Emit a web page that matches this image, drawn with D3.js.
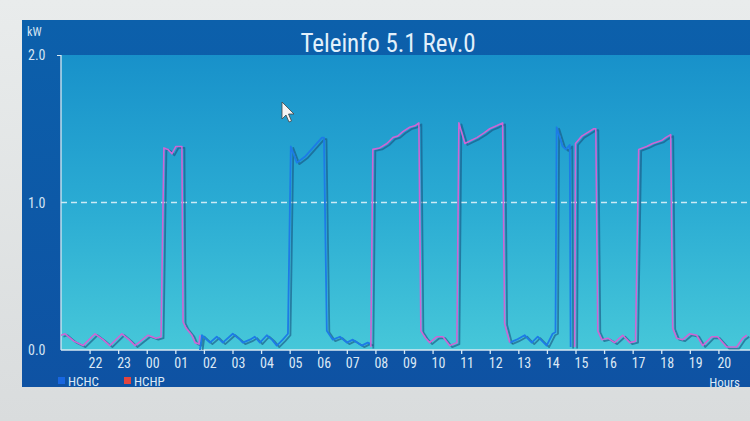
<!DOCTYPE html>
<html>
<head>
<meta charset="utf-8">
<script src="https://cdn.jsdelivr.net/npm/d3@7/dist/d3.min.js"></script>
<style>
  html, body { margin: 0; padding: 0; background: #e3e6e7; }
  svg { display: block; }
  text { font-family: 'Liberation Sans Narrow', 'Roboto Condensed', 'Liberation Sans', Arial, sans-serif; }
</style>
</head>
<body>
<svg id="chart" width="750" height="421"></svg>
<script>
// ---------- data (hours counted from 21:00 of day 1; >24 = next day) ----------
const titleText = "Teleinfo 5.1 Rev.0";
const yTicks = [0, 1, 2];
const yTickLabels = ["0.0", "1.0", "2.0"];
const xTickHours = [22,23,24,25,26,27,28,29,30,31,32,33,34,35,36,37,38,39,40,41,42,43,44];
const xTickLabels = ["22","23","00","01","02","03","04","05","06","07","08","09","10","11","12","13","14","15","16","17","18","19","20"];
const seriesNames = ["HCHC", "HCHP"];

// HCHP (peak hours) — null marks a gap
const hchpHours = [
  21.00,21.14,21.45,21.77,22.19,22.47,22.71,23.13,23.38,23.59,24.04,24.32,24.50,24.60,24.74,24.88,25.02,25.23,25.27,25.37,25.58,25.69,25.83,25.86,
  26.00,
  31.84,31.91,32.15,32.40,32.61,32.78,32.96,33.20,33.38,33.52,33.59,33.76,33.90,34.15,34.36,34.60,34.85,34.92,35.13,35.34,35.55,35.79,36.00,36.24,36.45,36.52,36.70,
  37.00,
  38.97,39.00,39.22,39.39,39.64,39.71,39.78,39.92,40.13,40.37,40.65,40.90,41.10,41.21,41.49,41.70,42.01,42.15,42.33,42.40,42.54,42.75,42.99,43.24,43.45,43.76,43.97,44.29,44.64,44.85,44.99
];
const hchpKW = [
  0.10,0.11,0.06,0.03,0.11,0.07,0.03,0.11,0.07,0.03,0.10,0.08,0.09,1.37,1.36,1.33,1.38,1.38,0.19,0.15,0.10,0.05,0.04,0.10,
  null,
  0.02,1.36,1.37,1.40,1.44,1.45,1.48,1.51,1.52,1.54,0.13,0.08,0.05,0.09,0.09,0.03,0.05,1.54,1.40,1.42,1.44,1.47,1.50,1.52,1.54,0.18,0.05,
  null,
  0.02,1.40,1.45,1.47,1.50,1.50,0.13,0.07,0.08,0.05,0.10,0.05,0.06,1.36,1.38,1.40,1.42,1.44,1.46,0.15,0.08,0.07,0.11,0.10,0.03,0.09,0.09,0.02,0.02,0.08,0.10
];

// HCHC (off-peak hours)
const hchcHours = [
  25.86,25.93,26.21,26.45,26.66,27.01,27.26,27.36,27.61,27.78,27.96,28.20,28.38,28.55,28.76,28.94,29.04,29.25,29.53,29.81,30.13,30.20,30.30,30.51,30.76,31.00,31.21,31.52,31.73,31.84,
  33.00,
  36.70,36.94,37.22,37.47,37.68,37.99,38.20,38.30,38.34,38.55,38.66,38.80,38.83
];
const hchcKW = [
  0.00,0.10,0.05,0.09,0.05,0.11,0.07,0.05,0.07,0.09,0.05,0.10,0.07,0.03,0.07,0.11,1.38,1.27,1.31,1.37,1.44,1.44,0.13,0.07,0.09,0.05,0.07,0.03,0.05,0.04,
  null,
  0.05,0.07,0.10,0.05,0.09,0.03,0.11,0.12,1.51,1.38,1.36,1.39,0.02
];

// ---------- layout ----------
const svg = d3.select("#chart");
const W = 750, H = 421;
const panel = { x: 22, y: 20, w: 740, h: 367 };
const plot = { left: 61, right: 747, top: 55, bottom: 350 };

const defs = svg.append("defs");
const gPanel = defs.append("linearGradient").attr("id", "gPanel").attr("x1", 0).attr("y1", 0).attr("x2", 0).attr("y2", 1);
gPanel.append("stop").attr("offset", "0%").attr("stop-color", "#0c60ab");
gPanel.append("stop").attr("offset", "100%").attr("stop-color", "#0e52a3");
const gPlot = defs.append("linearGradient").attr("id", "gPlot").attr("x1", 0).attr("y1", 0).attr("x2", 0).attr("y2", 1);
gPlot.append("stop").attr("offset", "0%").attr("stop-color", "#1891ca");
gPlot.append("stop").attr("offset", "50%").attr("stop-color", "#2aabd3");
gPlot.append("stop").attr("offset", "100%").attr("stop-color", "#46c7d9");
const gBg = defs.append("linearGradient").attr("id", "gBg").attr("x1", 0).attr("y1", 0).attr("x2", 0).attr("y2", 1);
gBg.append("stop").attr("offset", "0%").attr("stop-color", "#e9ecec");
gBg.append("stop").attr("offset", "100%").attr("stop-color", "#d9dcdd");

svg.append("rect").attr("width", W).attr("height", H).attr("fill", "url(#gBg)");
svg.append("rect").attr("x", panel.x).attr("y", panel.y).attr("width", panel.w).attr("height", panel.h).attr("fill", "url(#gPanel)");
svg.append("rect").attr("x", plot.left).attr("y", plot.top).attr("width", W - plot.left).attr("height", plot.bottom - plot.top).attr("fill", "url(#gPlot)");

// ---------- scales ----------
const x = d3.scaleLinear().domain([21, 45]).range([plot.left, plot.right]);
const y = d3.scaleLinear().domain([0, 2]).range([plot.bottom, plot.top]);

// title
svg.append("text").attr("x", 388).attr("y", 52).attr("text-anchor", "middle")
  .attr("font-size", 25).attr("fill", "#e2f0fb").text(titleText);

// unit
svg.append("text").attr("x", 27).attr("y", 36).attr("font-size", 12).attr("fill", "#d5e4f3").text("kW");

// y labels
svg.append("g").selectAll("text").data(yTicks).join("text")
  .attr("x", 28).attr("y", d => y(d) + 5).attr("font-size", 14).attr("fill", "#d5e4f3")
  .text((d, i) => yTickLabels[i]);

// dashed gridline at 1.0
svg.append("line").attr("x1", plot.left).attr("x2", W).attr("y1", y(1)).attr("y2", y(1))
  .attr("stroke", "#e8f6fb").attr("stroke-width", 1.3).attr("stroke-dasharray", "6,4").attr("opacity", 0.85);

// x axis
const xAxis = d3.axisBottom(x).tickValues(xTickHours).tickSize(4).tickFormat("");
const gx = svg.append("g").attr("transform", `translate(0,${plot.bottom})`).call(xAxis);
gx.select(".domain").attr("stroke", "#d7e8f2").attr("stroke-width", 1.5).attr("d", `M${plot.left},0H${W}`);
gx.selectAll(".tick line").attr("stroke", "#d7e8f2").attr("stroke-width", 1.3);
svg.append("g").selectAll("text").data(xTickHours).join("text")
  .attr("x", d => x(d) - 1).attr("y", 368).attr("font-size", 14).attr("fill", "#dbe8f5")
  .text((d, i) => xTickLabels[i]);

// y axis line
const yAxis = d3.axisLeft(y).tickValues([2]).tickSize(4).tickFormat("");
const gy = svg.append("g").attr("transform", `translate(${plot.left},0)`).call(yAxis);
gy.select(".domain").attr("stroke", "#d7e8f2").attr("stroke-width", 1.3).attr("d", `M0,${plot.top}V${plot.bottom}`);
gy.selectAll(".tick line").attr("stroke", "#d7e8f2");

// ---------- series ----------
const line = d3.line().defined(d => d.v !== null).x(d => x(d.t)).y(d => y(d.v));
const hchp = hchpHours.map((t, i) => ({ t, v: hchpKW[i] }));
const hchc = hchcHours.map((t, i) => ({ t, v: hchcKW[i] }));

const clip = defs.append("clipPath").attr("id", "clipPlot");
clip.append("rect").attr("x", plot.left).attr("y", plot.top - 5).attr("width", W - plot.left).attr("height", plot.bottom - plot.top + 5);

const gLines = svg.append("g").attr("clip-path", "url(#clipPlot)");
// shadows
[hchc, hchp].forEach(s => {
  gLines.append("path").datum(s).attr("d", line).attr("fill", "none")
    .attr("stroke", "#17527e").attr("stroke-width", 1.8).attr("opacity", 0.6)
    .attr("stroke-linejoin", "round").attr("transform", "translate(2.5,1.5)");
});
gLines.append("path").datum(hchc).attr("d", line).attr("fill", "none")
  .attr("stroke", "#1d7be6").attr("stroke-width", 1.8).attr("stroke-linejoin", "round");
gLines.append("path").datum(hchp).attr("d", line).attr("fill", "none")
  .attr("stroke", "#cf65d4").attr("stroke-width", 1.6).attr("stroke-linejoin", "round");

// ---------- legend ----------
const legendColors = ["#1766e0", "#e2453f"];
const legendX = [58, 124];
const lg = svg.append("g").selectAll("g").data(seriesNames).join("g")
  .attr("transform", (d, i) => `translate(${legendX[i]},0)`);
lg.append("rect").attr("x", 0).attr("y", 377).attr("width", 7).attr("height", 7).attr("fill", (d, i) => legendColors[i]);
lg.append("text").attr("x", 10).attr("y", 386).attr("font-size", 13).attr("fill", "#dbe8f5").text(d => d);

svg.append("text").attr("x", 740).attr("y", 387).attr("text-anchor", "end")
  .attr("font-size", 13).attr("fill", "#dbe8f5").text("Hours");

// mouse pointer seen in the photo
svg.append("path").attr("transform", "translate(282,102)")
  .attr("d", "M0,0 L0,17 L4,13 L7,20 L9.5,19 L6.5,12 L12,12 Z")
  .attr("fill", "#f4f4f4").attr("stroke", "#444").attr("stroke-width", 0.8);
</script>
</body>
</html>
